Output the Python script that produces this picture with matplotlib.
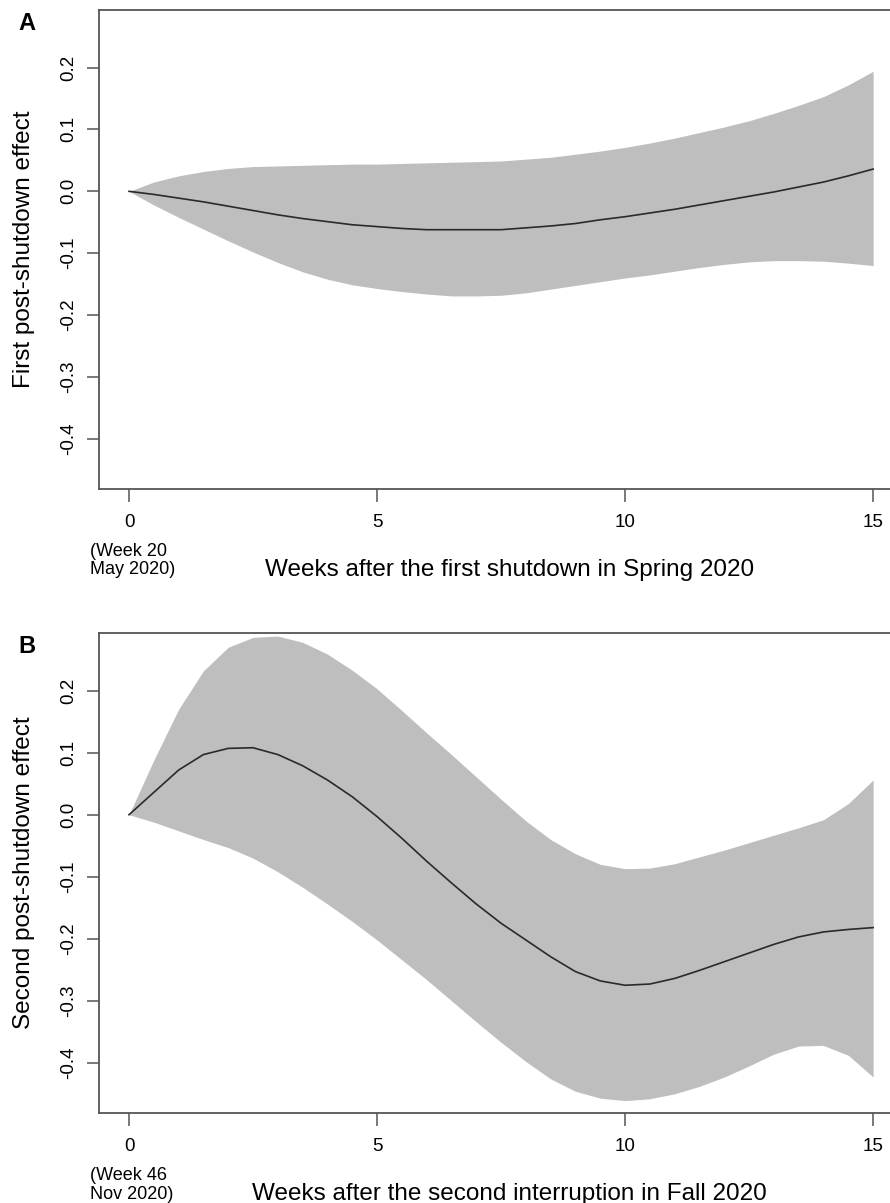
"""
Post-shutdown effect curves with confidence bands, two stacked panels.
"""

import matplotlib.pyplot as plt
import numpy as np

plt.rcParams["font.family"] = ["Liberation Sans", "DejaVu Sans"]

# Weeks after the shutdown (half-week steps).
weeks = np.arange(0, 15.5, 0.5)

# Panel A: first shutdown, Spring 2020.
first_fit = [
    0.0, -0.005, -0.011, -0.017, -0.024, -0.031, -0.038, -0.044, -0.049, -0.054,
    -0.057, -0.060, -0.062, -0.062, -0.062, -0.062, -0.059, -0.056, -0.052, -0.046,
    -0.041, -0.035, -0.029, -0.022, -0.015, -0.008, -0.001, 0.007, 0.015, 0.025,
    0.036,
]
first_upper = [
    0.0, 0.015, 0.025, 0.032, 0.037, 0.040, 0.041, 0.042, 0.043, 0.044,
    0.044, 0.045, 0.046, 0.047, 0.048, 0.049, 0.052, 0.055, 0.060, 0.065,
    0.071, 0.078, 0.086, 0.095, 0.104, 0.114, 0.126, 0.139, 0.153, 0.172,
    0.194,
]
first_lower = [
    0.0, -0.022, -0.042, -0.061, -0.080, -0.098, -0.115, -0.130, -0.142, -0.151,
    -0.157, -0.162, -0.166, -0.169, -0.169, -0.168, -0.164, -0.158, -0.152, -0.146,
    -0.140, -0.135, -0.129, -0.123, -0.118, -0.114, -0.112, -0.112, -0.113, -0.116,
    -0.120,
]

# Panel B: second interruption, Fall 2020.
second_fit = [
    0.0, 0.036, 0.072, 0.097, 0.107, 0.108, 0.097, 0.079, 0.056, 0.029,
    -0.003, -0.038, -0.075, -0.110, -0.144, -0.175, -0.202, -0.229, -0.253, -0.268,
    -0.275, -0.273, -0.264, -0.251, -0.237, -0.223, -0.209, -0.197, -0.189, -0.185,
    -0.182,
]
second_upper = [
    0.0, 0.088, 0.170, 0.232, 0.270, 0.286, 0.288, 0.278, 0.259, 0.233,
    0.203, 0.168, 0.132, 0.097, 0.061, 0.025, -0.010, -0.040, -0.063, -0.080,
    -0.087, -0.086, -0.079, -0.068, -0.057, -0.045, -0.033, -0.021, -0.008, 0.018,
    0.056,
]
second_lower = [
    0.0, -0.012, -0.026, -0.040, -0.053, -0.070, -0.092, -0.117, -0.144, -0.172,
    -0.202, -0.234, -0.266, -0.300, -0.334, -0.367, -0.398, -0.426, -0.446, -0.457,
    -0.461, -0.458, -0.450, -0.438, -0.423, -0.405, -0.386, -0.373, -0.372, -0.388,
    -0.423,
]

x_ticks = [0, 5, 10, 15]
y_ticks = [-0.4, -0.3, -0.2, -0.1, 0.0, 0.1, 0.2]

panels = [
    {
        "letter": "A",
        "fit": first_fit,
        "upper": first_upper,
        "lower": first_lower,
        "ylabel": "First post-shutdown effect",
        "xlabel": "Weeks after the first shutdown in Spring 2020",
        "start": "(Week 20\nMay 2020)",
        "rect": [0.1115, 0.5935, 0.903, 0.3982],
    },
    {
        "letter": "B",
        "fit": second_fit,
        "upper": second_upper,
        "lower": second_lower,
        "ylabel": "Second post-shutdown effect",
        "xlabel": "Weeks after the second interruption in Fall 2020",
        "start": "(Week 46\nNov 2020)",
        "rect": [0.1115, 0.0748, 0.903, 0.3990],
    },
]

fig = plt.figure(figsize=(8.9, 12.03), dpi=100)

for panel in panels:
    ax = fig.add_axes(panel["rect"])

    ax.fill_between(weeks, panel["lower"], panel["upper"], color="#bebebe", lw=0)
    ax.plot(weeks, panel["fit"], color="#2a2a2a", lw=1.2)

    ax.set_xlim(-0.6, 15.6)
    ax.set_ylim(-0.481, 0.293)

    for spine in ax.spines.values():
        spine.set_color("#555555")
        spine.set_linewidth(1.3)

    ax.set_xticks(x_ticks)
    ax.set_yticks(y_ticks)
    ax.set_yticklabels([f"{v:.1f}" for v in y_ticks], rotation=90, va="center")
    ax.tick_params(
        direction="out", length=9, width=1.1, color="#555555",
        labelsize=13.5, pad=9,
    )
    ax.tick_params(axis="y", pad=7)

    ax.set_ylabel(panel["ylabel"], fontsize=17.5, labelpad=18)
    ax.set_xlabel(panel["xlabel"], fontsize=17.5, labelpad=20, x=0.51)

    ax.text(
        -0.0115, -0.113, panel["start"], transform=ax.transAxes,
        fontsize=13, ha="left", va="top", linespacing=1.1,
    )
    ax.text(
        -0.101, 0.995, panel["letter"], transform=ax.transAxes,
        fontsize=17, fontweight="bold", ha="left", va="top",
    )

fig.savefig("out.png", dpi=100)
